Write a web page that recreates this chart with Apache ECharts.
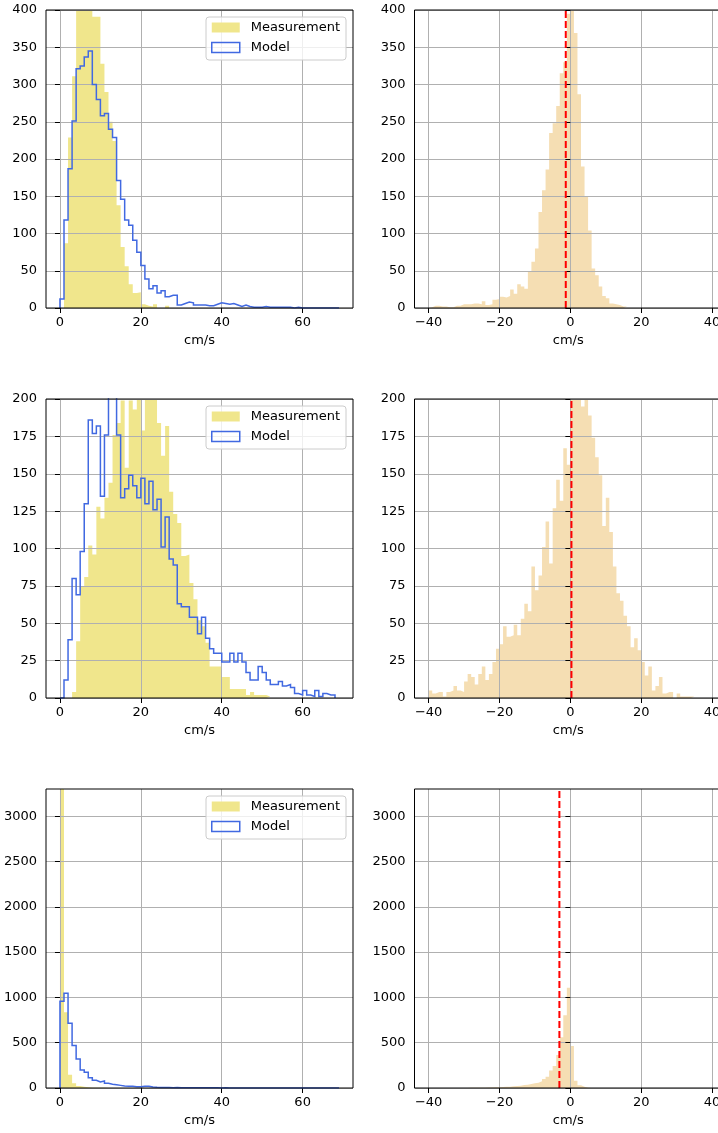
<!DOCTYPE html>
<html>
<head>
<meta charset="utf-8">
<script src="https://cdn.jsdelivr.net/npm/echarts@6/dist/echarts.min.js"></script>
<style>
  html, body { margin: 0; padding: 0; background: #ffffff; }
  #chart { width: 718px; height: 1133px; }
</style>
</head>
<body>
<div id="chart"></div>
<script>
// ---- histogram data (counts per 1 cm/s bin) ----
const BIN_WIDTH = 1;
const SPEED_BIN_START = 0;     // speed histograms start at 0 cm/s
const DIFF_BIN_START = -40;    // difference histograms start at -40 cm/s

// Row 1: speed
const speedMeasTop = [0, 87, 229, 311, 415, 440, 430, 415, 391, 391,
  328, 290, 250, 224, 138, 82, 56, 32, 20, 21,
  5, 3, 2, 5, 0, 0, 3];
const speedModelTop = [12, 118, 187, 251, 321, 325, 337, 345, 300, 280,
  258, 261, 240, 229, 171, 146, 118, 111, 91, 75,
  57, 39, 26, 30, 20, 23, 15, 17, 17, 4,
  6, 8, 7, 4, 4, 4, 3, 3, 5, 7,
  6, 5, 6, 4, 2, 4, 2, 1, 1, 1,
  2, 1, 1, 1, 1, 1, 1, 0, 1, 0,
  0, 0, 0, 0, 0, 0, 0, 0, 0];
const diffTop = [1, 3, 3, 2, 2, 1, 1, 3, 3, 5,
  5, 5, 6, 6, 5, 9, 4, 5, 11, 12,
  15, 14, 16, 25, 19, 32, 29, 26, 49, 62,
  80, 129, 158, 186, 235, 248, 271, 315, 330, 395,
  410, 369, 287, 190, 149, 104, 53, 44, 29, 16,
  13, 6, 5, 4, 2, 2];

// Row 2: speed
const speedMeasMid = [0, 0, 0, 4, 38, 75, 81, 102, 96, 128,
  120, 134, 144, 176, 184, 199, 154, 199, 193, 210,
  179, 210, 205, 210, 184, 162, 182, 138, 123, 117,
  95, 96, 77, 66, 52, 48, 37, 21, 21, 21,
  14, 14, 6, 6, 6, 6, 2, 4, 2, 2,
  2, 1];
const speedModelMid = [0, 12, 39, 80, 69, 98, 130, 186, 177, 182,
  135, 176, 215, 215, 176, 134, 140, 149, 142, 134,
  147, 130, 145, 126, 133, 101, 121, 93, 89, 63,
  61, 61, 54, 54, 43, 54, 40, 33, 30, 30,
  24, 24, 30, 24, 30, 24, 17, 12, 12, 21,
  17, 12, 9, 9, 11, 8, 9, 7, 3, 2,
  5, 2, 1, 5, 1, 3, 2, 2];
const diffMid = [5, 3, 4, 4, 1, 4, 5, 8, 5, 4,
  11, 16, 14, 9, 16, 21, 12, 16, 24, 33,
  36, 48, 41, 42, 49, 42, 53, 63, 58, 88,
  72, 82, 101, 118, 90, 127, 146, 132, 167, 156,
  205, 210, 206, 195, 208, 189, 174, 161, 149, 115,
  134, 111, 88, 70, 65, 55, 48, 34, 40, 32,
  24, 15, 21, 5, 8, 14, 3, 4, 4, 0,
  3, 1, 1, 1, 1];

// Row 3: speed
const speedMeasBot = [3600, 837, 147, 52, 22, 15, 7, 4, 3, 2, 2, 1, 1];
const speedModelBot = [958, 1047, 715, 468, 321, 199, 173, 114, 85, 66,
  77, 52, 41, 37, 29, 22, 18, 18, 15, 15,
  18, 18, 11, 7, 6, 5, 5, 4, 6, 4,
  4, 3, 3, 3, 2, 3, 2, 2, 2, 1,
  2, 1, 1, 1, 1, 0, 1, 0, 1, 0,
  0, 0, 0, 0, 0, 0, 0, 0, 0, 0,
  0, 0, 0, 0, 0, 0, 0, 0, 0];
const diffBot = [0, 0, 0, 0, 0, 0, 0, 0, 0, 0,
  1, 2, 2, 3, 3, 4, 5, 5, 7, 8,
  11, 15, 15, 18, 22, 26, 33, 37, 44, 52,
  59, 74, 100, 125, 192, 243, 365, 560, 804, 1106,
  464, 81, 29, 15, 4, 2];

// dashed reference line position in each difference panel
const diffCenters = [-1.3, 0.3, -3.1];

// tick labels
const speedTicks = [0, 20, 40, 60];
const diffTicks = [-40, -20, 0, 20, 40];
const countTicksTop = [0, 50, 100, 150, 200, 250, 300, 350, 400];
const countTicksMid = [0, 25, 50, 75, 100, 125, 150, 175, 200];
const countTicksBot = [0, 500, 1000, 1500, 2000, 2500, 3000];

// ---- layout / styling ----
const FONT = 'DejaVu Sans';
const KHAKI = '#F0E68C';
const WHEAT = '#F5DEB3';
const ROYAL = '#4169E1';
const GRID_GRAY = '#b0b0b0';

const rowTop = [10, 399, 789];
const rowHeight = [298, 299, 299];
const countMax = [400, 200, 3300];
const countTicks = [countTicksTop, countTicksMid, countTicksBot];
const rowSpeedMeas = [speedMeasTop, speedMeasMid, speedMeasBot];
const rowSpeedModel = [speedModelTop, speedModelMid, speedModelBot];
const rowDiff = [diffTop, diffMid, diffBot];

// outline of a histogram: up the first edge, across each bin, down the last edge
function stepOutline(start, width, counts) {
  const pts = [[start, 0]];
  counts.forEach((c, i) => {
    const x0 = start + i * width;
    pts.push([x0, c], [x0 + width, c]);
  });
  pts.push([start + counts.length * width, 0]);
  return pts;
}

// plain numbers with a typographic minus sign
const fmtNumber = v => String(v).replace('-', '\u2212');

const grids = [], xAxes = [], yAxes = [], series = [], legends = [];

const textBase = { color: '#000', fontSize: 13, fontFamily: FONT };

function makeXAxis(idx, min, max, ticks) {
  return {
    gridIndex: idx, type: 'value', min: min, max: max, splitNumber: 4, z: 3,
    axisLine: { show: false },
    axisTick: { show: true, customValues: ticks, length: 5, lineStyle: { color: '#000', width: 1 } },
    axisLabel: Object.assign({ customValues: ticks, margin: 8, formatter: fmtNumber }, textBase),
    splitLine: { show: true, lineStyle: { color: GRID_GRAY, width: 1 } },
    name: 'cm/s', nameLocation: 'middle', nameGap: 26,
    nameTextStyle: Object.assign({}, textBase)
  };
}

function makeYAxis(idx, row) {
  const ticks = countTicks[row];
  return {
    gridIndex: idx, type: 'value', min: 0, max: countMax[row],
    interval: ticks[1] - ticks[0], z: 3,
    axisLine: { show: false },
    axisTick: { show: true, customValues: ticks, length: 5, lineStyle: { color: '#000', width: 1 } },
    axisLabel: Object.assign({ customValues: ticks, margin: 9, formatter: fmtNumber }, textBase),
    splitLine: { show: true, lineStyle: { color: GRID_GRAY, width: 1 } }
  };
}

for (let r = 0; r < 3; r++) {
  // left: speed histograms
  const li = grids.length;
  grids.push({
    show: true, z: 10, left: 46, width: 307, top: rowTop[r], height: rowHeight[r],
    borderColor: '#000', borderWidth: 1, backgroundColor: 'rgba(0,0,0,0)',
    outerBoundsMode: 'none', containLabel: false
  });
  xAxes.push(makeXAxis(li, -3.45, 72.45, speedTicks));
  yAxes.push(makeYAxis(li, r));
  series.push({
    name: 'Measurement', type: 'line', xAxisIndex: li, yAxisIndex: li,
    data: stepOutline(SPEED_BIN_START, BIN_WIDTH, rowSpeedMeas[r]),
    symbol: 'none', showSymbol: false, z: 0, silent: true, clip: true,
    lineStyle: { width: 0, opacity: 0 },
    areaStyle: { color: KHAKI, opacity: 1 }
  });
  series.push({
    name: 'Model', type: 'line', xAxisIndex: li, yAxisIndex: li,
    data: stepOutline(SPEED_BIN_START, BIN_WIDTH, rowSpeedModel[r]),
    symbol: 'none', showSymbol: false, z: 4, silent: true, clip: true,
    lineStyle: { color: ROYAL, width: 1.5, join: 'miter' }
  });
  legends.push({
    orient: 'vertical', right: 372, top: rowTop[r] + 7,
    selectedMode: false, z: 12,
    backgroundColor: 'rgba(255,255,255,0.8)', borderColor: '#cccccc', borderWidth: 1, borderRadius: 3,
    padding: [4, 6, 6, 5], itemWidth: 28, itemHeight: 10, itemGap: 7,
    textStyle: Object.assign({ padding: [0, 0, 0, 6] }, textBase),
    data: [
      { name: 'Measurement', icon: 'rect', itemStyle: { color: KHAKI, borderWidth: 0 } },
      { name: 'Model', icon: 'rect', itemStyle: { color: 'rgba(255,255,255,0)', borderColor: ROYAL, borderWidth: 1.5 } }
    ]
  });

  // right: difference histograms
  const ri = grids.length;
  grids.push({
    show: true, z: 10, left: 414.5, width: 307.5, top: rowTop[r], height: rowHeight[r],
    borderColor: '#000', borderWidth: 1, backgroundColor: 'rgba(0,0,0,0)',
    outerBoundsMode: 'none', containLabel: false
  });
  xAxes.push(makeXAxis(ri, -44, 42.8, diffTicks));
  yAxes.push(makeYAxis(ri, r));
  series.push({
    name: 'Difference', type: 'line', xAxisIndex: ri, yAxisIndex: ri,
    data: stepOutline(DIFF_BIN_START, BIN_WIDTH, rowDiff[r]),
    symbol: 'none', showSymbol: false, z: 0, silent: true, clip: true,
    lineStyle: { width: 0, opacity: 0 },
    areaStyle: { color: WHEAT, opacity: 1 }
  });
  // vertical dashed line spanning the full height of the panel
  series.push({
    name: 'Center', type: 'line', xAxisIndex: ri, yAxisIndex: ri,
    data: [[diffCenters[r], 0], [diffCenters[r], countMax[r]]],
    symbol: 'none', showSymbol: false, z: 5, silent: true, clip: true,
    lineStyle: { color: '#ff0000', width: 2, type: [7, 3], cap: 'butt' }
  });
}

const chart = echarts.init(document.getElementById('chart'), null, { renderer: 'canvas' });
chart.setOption({
  animation: false,
  backgroundColor: '#ffffff',
  textStyle: { fontFamily: FONT },
  grid: grids,
  xAxis: xAxes,
  yAxis: yAxes,
  legend: legends,
  series: series
});
</script>
</body>
</html>
